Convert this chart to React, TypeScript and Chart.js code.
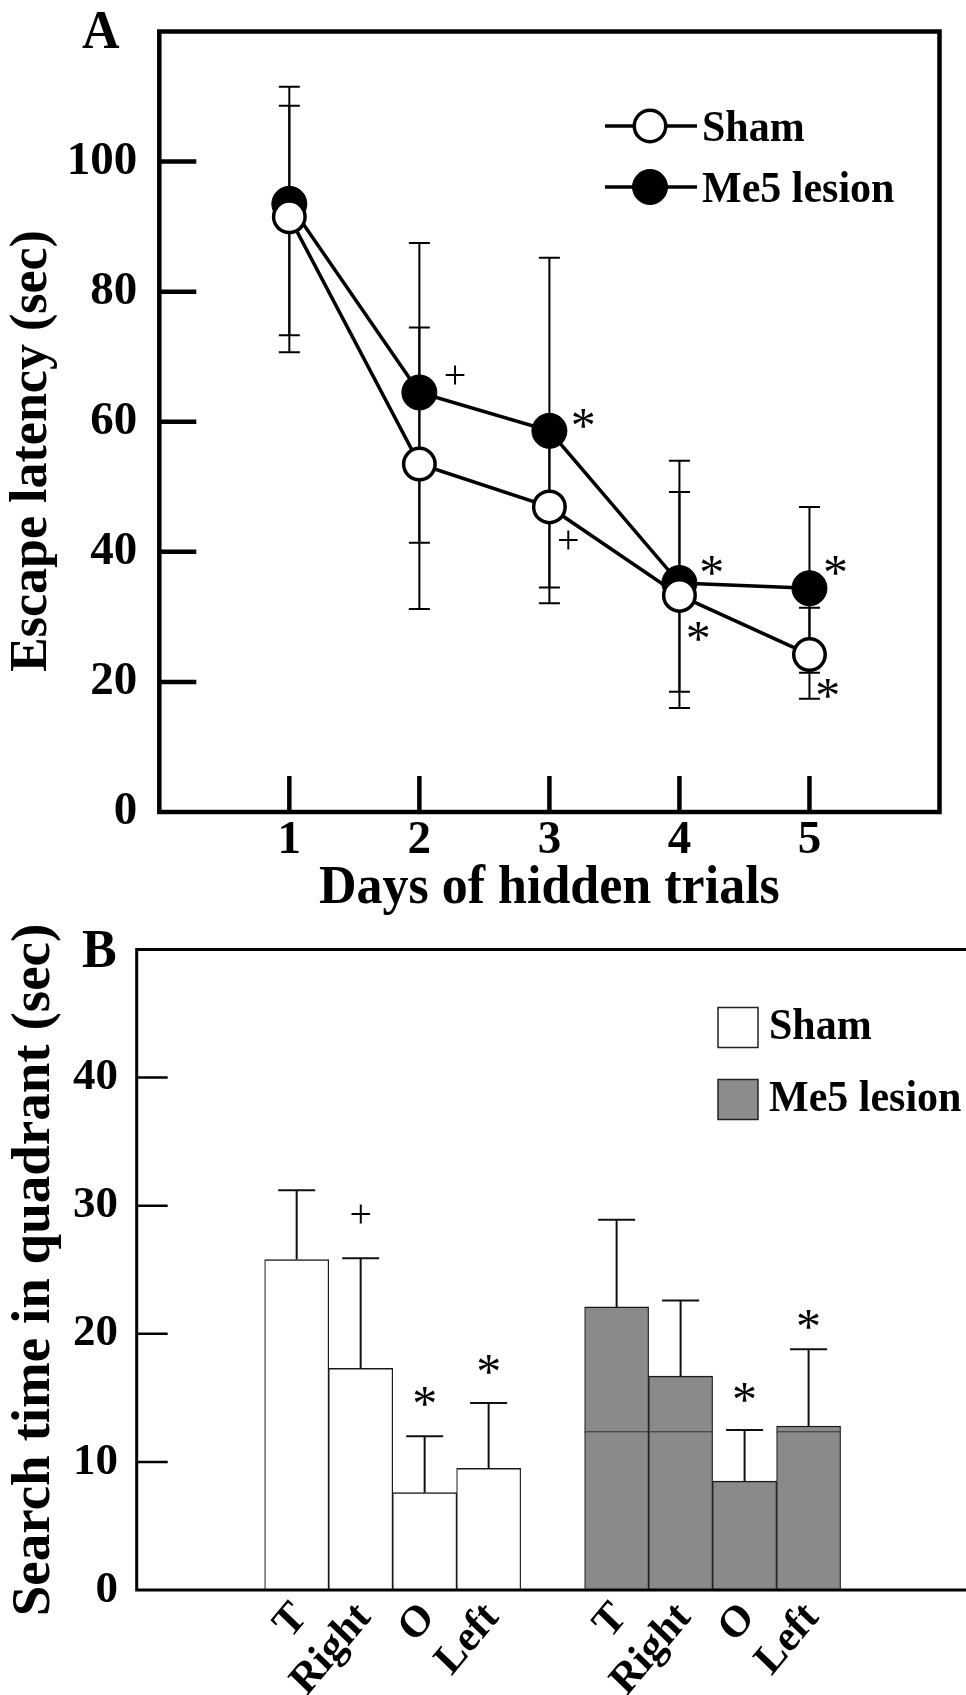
import React, { useEffect, useRef } from 'react';
import { Chart, registerables } from 'chart.js';

Chart.register(...registerables);

const SERIF = '"Liberation Serif", "Times New Roman", Times, serif';

// ---------- Panel A: escape latency ----------
const days = [1, 2, 3, 4, 5];
const yTicksA = [0, 20, 40, 60, 80, 100];
const shamLatency = [91.5, 53.5, 46.9, 33.3, 24.2];
const shamUpper = [108.6, 74.5, 59.3, 49.2, 31.4];
const shamLower = [73.3, 31.2, 34.5, 18.5, 17.4];
const me5Latency = [93.5, 64.5, 58.6, 35.2, 34.4];
const me5Upper = [111.5, 87.5, 85.2, 54.0, 46.9];
const me5Lower = [70.7, 41.4, 32.1, 16.0, 21.4];
const sigTextA = ['+', '*', '+', '*', '*', '*', '*'];
const sigDayA = [2.275, 3.26, 3.146, 4.248, 4.144, 5.2, 5.14];
const sigValueA = [66.7, 60.5, 41.3, 37.9, 27.7, 37.9, 19.0];

// ---------- Panel B: search time in quadrant ----------
const quadrants = ['T', 'Right', 'O', 'Left'];
const yTicksB = [0, 10, 20, 30, 40];
const shamSearch = [25.8, 17.3, 7.6, 9.5];
const shamSearchErr = [5.4, 8.6, 4.4, 5.1];
const me5Search = [22.1, 16.7, 8.5, 12.8];
const me5SearchErr = [6.8, 5.9, 4.0, 6.0];
const shamSigB = ['', '+', '*', '*'];
const shamSigValueB = [0, 29.1, 15.1, 17.6];
const me5SigB = ['', '', '*', '*'];
const me5SigValueB = [0, 0, 15.4, 21.1];
const me5ScanLineValue = 12.35;

const f = (size: number, weight = 'bold') => `${weight} ${size}px ${SERIF}`;

function drawSig(ctx: CanvasRenderingContext2D, text: string, x: number, y: number) {
  ctx.save();
  ctx.fillStyle = '#000';
  ctx.textAlign = 'center';
  ctx.textBaseline = 'alphabetic';
  if (text === '*') {
    ctx.font = f(50, 'normal');
    ctx.fillText(text, x, y + 0.47 * 50);
  } else {
    ctx.font = f(40, 'normal');
    ctx.fillText(text, x, y + 0.25 * 40);
  }
  ctx.restore();
}

// text slightly stretched vertically, like the reference typography
function tallText(ctx: CanvasRenderingContext2D, text: string, x: number, y: number, stretch = 1.07) {
  ctx.save();
  ctx.translate(x, y);
  ctx.scale(1, stretch);
  ctx.fillText(text, 0, 0);
  ctx.restore();
}

const yFit = (w: number) => (s: any) => { s.width = w; s.paddingTop = 0; s.paddingBottom = 0; };
const xFit = (h: number) => (s: any) => { s.height = h; s.paddingLeft = 0; s.paddingRight = 0; };

const panelADecor = {
  id: 'panelADecor',
  beforeDatasetsDraw(chart: any) {
    const { ctx, scales } = chart;
    const x = scales.x, y = scales.y;
    ctx.save();
    ctx.strokeStyle = '#000';
    ctx.lineWidth = 2;
    const pairs = [[me5Upper, me5Lower], [shamUpper, shamLower]];
    days.forEach((d, i) => {
      const px = x.getPixelForValue(d);
      for (const [up, lo] of pairs) {
        const yt = y.getPixelForValue(up[i]);
        const yb = y.getPixelForValue(lo[i]);
        ctx.beginPath();
        ctx.moveTo(px, yt); ctx.lineTo(px, yb);
        ctx.moveTo(px - 10.5, yt); ctx.lineTo(px + 10.5, yt);
        ctx.moveTo(px - 10.5, yb); ctx.lineTo(px + 10.5, yb);
        ctx.stroke();
      }
    });
    ctx.restore();
  },
  afterDraw(chart: any) {
    const { ctx, chartArea: a, scales } = chart;
    const x = scales.x, y = scales.y;
    ctx.save();
    ctx.strokeStyle = '#000';
    ctx.lineWidth = 4.5;
    ctx.strokeRect(a.left, a.top, a.right - a.left, a.bottom - a.top);
    ctx.beginPath();
    yTicksA.forEach((v) => {
      if (v === 0) return;
      const py = y.getPixelForValue(v);
      ctx.moveTo(a.left, py); ctx.lineTo(a.left + 37, py);
    });
    days.forEach((d) => {
      const px = x.getPixelForValue(d);
      ctx.moveTo(px, a.bottom); ctx.lineTo(px, a.bottom - 36);
    });
    ctx.stroke();

    sigTextA.forEach((t, i) => drawSig(ctx, t, x.getPixelForValue(sigDayA[i]), y.getPixelForValue(sigValueA[i])));

    // legend
    const leg = [
      { label: 'Sham', y: 126, fill: '#fff', r: 15.75, bw: 3.5 },
      { label: 'Me5 lesion', y: 187, fill: '#000', r: 17.5, bw: 1 },
    ];
    leg.forEach((l) => {
      ctx.lineWidth = 3.5;
      ctx.beginPath(); ctx.moveTo(605, l.y); ctx.lineTo(697, l.y); ctx.stroke();
      ctx.beginPath(); ctx.arc(650, l.y, l.r, 0, Math.PI * 2);
      ctx.fillStyle = l.fill; ctx.fill();
      ctx.lineWidth = l.bw; ctx.stroke();
      ctx.fillStyle = '#000';
      ctx.font = f(42);
      ctx.textAlign = 'left';
      ctx.textBaseline = 'alphabetic';
      tallText(ctx, l.label, 702, l.y + 15);
    });

    ctx.fillStyle = '#000';
    ctx.font = f(52);
    ctx.textAlign = 'left';
    ctx.textBaseline = 'alphabetic';
    tallText(ctx, 'A', 82, 48);
    ctx.textAlign = 'center';
    ctx.font = f(52);
    tallText(ctx, 'Days of hidden trials', (a.left + a.right) / 2, 903);
    ctx.save();
    ctx.translate(46, 451);
    ctx.rotate(-Math.PI / 2);
    ctx.font = f(52);
    ctx.fillText('Escape latency (sec)', 0, 0);
    ctx.restore();
    ctx.restore();
  },
};

const panelBDecor = {
  id: 'panelBDecor',
  afterDatasetsDraw(chart: any) {
    const { ctx, chartArea: a, scales } = chart;
    const y = scales.y;
    ctx.save();
    // faint scan line across the tall Me5 bars
    const me5Meta = chart.getDatasetMeta(1);
    ctx.strokeStyle = '#333';
    ctx.lineWidth = 1;
    ctx.beginPath();
    me5Meta.data.forEach((el: any, i: number) => {
      if (me5Search[i] > me5ScanLineValue) {
        const py = y.getPixelForValue(me5ScanLineValue);
        ctx.moveTo(el.x - el.width / 2, py); ctx.lineTo(el.x + el.width / 2, py);
      }
    });
    ctx.stroke();

    // error bars (upward only) and significance marks
    ctx.strokeStyle = '#111';
    ctx.lineWidth = 2;
    const groups = [
      { meta: chart.getDatasetMeta(0), vals: shamSearch, errs: shamSearchErr, sig: shamSigB, sigV: shamSigValueB },
      { meta: chart.getDatasetMeta(1), vals: me5Search, errs: me5SearchErr, sig: me5SigB, sigV: me5SigValueB },
    ];
    groups.forEach((g) => {
      g.meta.data.forEach((el: any, i: number) => {
        const top = y.getPixelForValue(g.vals[i]);
        const cap = y.getPixelForValue(g.vals[i] + g.errs[i]);
        ctx.beginPath();
        ctx.moveTo(el.x, top); ctx.lineTo(el.x, cap);
        ctx.moveTo(el.x - 18.5, cap); ctx.lineTo(el.x + 18.5, cap);
        ctx.stroke();
        if (g.sig[i]) drawSig(ctx, g.sig[i], el.x, y.getPixelForValue(g.sigV[i]));
      });
    });

    // rotated quadrant labels under each bar
    ctx.fillStyle = '#000';
    ctx.font = f(41);
    ctx.textAlign = 'right';
    ctx.textBaseline = 'alphabetic';
    groups.forEach((g) => {
      g.meta.data.forEach((el: any, i: number) => {
        ctx.save();
        ctx.translate(el.x + 11.5, a.bottom + 28);
        ctx.scale(1, 1.08);
        ctx.rotate(-0.84);
        ctx.fillText(quadrants[i], 0, 0);
        ctx.restore();
      });
    });

    // frame (left, top, bottom)
    ctx.strokeStyle = '#000';
    ctx.lineWidth = 3;
    ctx.beginPath();
    ctx.moveTo(a.right + 2, a.top); ctx.lineTo(a.left, a.top); ctx.lineTo(a.left, a.bottom); ctx.lineTo(a.right + 2, a.bottom);
    ctx.stroke();
    ctx.lineWidth = 2.5;
    ctx.beginPath();
    yTicksB.forEach((v) => {
      if (v === 0) return;
      const py = y.getPixelForValue(v);
      ctx.moveTo(a.left, py); ctx.lineTo(a.left + 31, py);
    });
    ctx.stroke();

    // legend
    const leg = [
      { label: 'Sham', top: 87.5, fill: '#fff' },
      { label: 'Me5 lesion', top: 159.5, fill: '#8c8c8c' },
    ];
    leg.forEach((l) => {
      ctx.fillStyle = l.fill;
      ctx.fillRect(718, l.top, 40, 40);
      ctx.strokeStyle = '#222';
      ctx.lineWidth = 1.5;
      ctx.strokeRect(718, l.top, 40, 40);
      ctx.fillStyle = '#000';
      ctx.font = f(42);
      ctx.textAlign = 'left';
      ctx.textBaseline = 'alphabetic';
      tallText(ctx, l.label, 769, l.top + 31);
    });

    ctx.fillStyle = '#000';
    ctx.font = f(52);
    ctx.textAlign = 'left';
    tallText(ctx, 'B', 82, 47);
    ctx.save();
    ctx.translate(49, 350);
    ctx.rotate(-Math.PI / 2);
    ctx.textAlign = 'center';
    ctx.font = f(55);
    ctx.fillText('Search time in quadrant (sec)', 0, 0);
    ctx.restore();
    ctx.restore();
  },
};

export default function App() {
  const refA = useRef<HTMLCanvasElement>(null);
  const refB = useRef<HTMLCanvasElement>(null);

  useEffect(() => {
    const tickFontA = { family: SERIF, size: 47, weight: 'bold' as const };
    const chartA = new Chart(refA.current as HTMLCanvasElement, {
      type: 'line',
      data: {
        datasets: [
          {
            label: 'Sham',
            data: days.map((d, i) => ({ x: d, y: shamLatency[i] })),
            borderColor: '#000',
            borderWidth: 3.5,
            pointRadius: 15.75,
            pointBackgroundColor: '#fff',
            pointBorderColor: '#000',
            pointBorderWidth: 3.5,
            tension: 0,
          },
          {
            label: 'Me5 lesion',
            data: days.map((d, i) => ({ x: d, y: me5Latency[i] })),
            borderColor: '#000',
            borderWidth: 3.5,
            pointRadius: 17.5,
            pointBackgroundColor: '#000',
            pointBorderColor: '#000',
            pointBorderWidth: 1,
            tension: 0,
          },
        ],
      },
      options: {
        responsive: false,
        animation: false,
        devicePixelRatio: 1,
        events: [],
        layout: { padding: { top: 31.5, right: 26.5, left: 0, bottom: 0 } },
        plugins: { legend: { display: false }, tooltip: { enabled: false } },
        scales: {
          x: {
            type: 'linear',
            min: 0,
            max: 6,
            afterFit: xFit(108),
            afterBuildTicks: (s: any) => { s.ticks = days.map((v) => ({ value: v })); },
            grid: { display: false, drawTicks: false },
            border: { display: false },
            ticks: { autoSkip: false, maxRotation: 0, padding: 1, font: tickFontA, color: '#000' },
          },
          y: {
            type: 'linear',
            min: 0,
            max: 120,
            afterFit: yFit(159.3),
            afterBuildTicks: (s: any) => { s.ticks = yTicksA.map((v) => ({ value: v })); },
            grid: { display: false, drawTicks: false },
            border: { display: false },
            ticks: { padding: 22, font: tickFontA, color: '#000' },
          },
        },
      } as any,
      plugins: [panelADecor],
    });

    const shamX = quadrants.map((_, i) => 2.5 + i);
    const me5X = quadrants.map((_, i) => 7.5 + i);
    const barBorder = { top: 1.5, left: 1.2, right: 1.2, bottom: 0 };
    const chartB = new Chart(refB.current as HTMLCanvasElement, {
      type: 'bar',
      data: {
        datasets: [
          {
            label: 'Sham',
            data: shamSearch.map((v, i) => ({ x: shamX[i], y: v })),
            backgroundColor: '#ffffff',
            borderColor: '#1a1a1a',
            borderWidth: barBorder,
            grouped: false,
            barPercentage: 1,
            categoryPercentage: 1,
          },
          {
            label: 'Me5 lesion',
            data: me5Search.map((v, i) => ({ x: me5X[i], y: v })),
            backgroundColor: '#8a8a8a',
            borderColor: '#1a1a1a',
            borderWidth: barBorder,
            grouped: false,
            barPercentage: 1,
            categoryPercentage: 1,
          },
        ],
      },
      options: {
        responsive: false,
        animation: false,
        devicePixelRatio: 1,
        events: [],
        layout: { padding: { top: 29.5, right: 0, left: 0, bottom: 0 } },
        plugins: { legend: { display: false }, tooltip: { enabled: false } },
        scales: {
          x: {
            type: 'linear',
            min: 0,
            max: 12.96,
            offset: false,
            afterFit: xFit(105),
            afterBuildTicks: (s: any) => { s.ticks = [...shamX, ...me5X].map((v) => ({ value: v })); },
            grid: { display: false, drawTicks: false },
            border: { display: false },
            ticks: { display: false },
          },
          y: {
            type: 'linear',
            min: 0,
            max: 50,
            afterFit: yFit(136.7),
            afterBuildTicks: (s: any) => { s.ticks = yTicksB.map((v) => ({ value: v })); },
            grid: { display: false, drawTicks: false },
            border: { display: false },
            ticks: { padding: 18.7, font: { family: SERIF, size: 45, weight: 'bold' }, color: '#000' },
          },
        },
      } as any,
      plugins: [panelBDecor],
    });

    return () => {
      chartA.destroy();
      chartB.destroy();
    };
  }, []);

  return (
    <div style={{ position: 'absolute', left: 0, top: 0, width: 966, height: 1695, background: '#fff' }}>
      <canvas ref={refA} width={966} height={920} style={{ position: 'absolute', left: 0, top: 0, width: 966, height: 920 }} />
      <canvas ref={refB} width={966} height={775} style={{ position: 'absolute', left: 0, top: 920, width: 966, height: 775 }} />
    </div>
  );
}
